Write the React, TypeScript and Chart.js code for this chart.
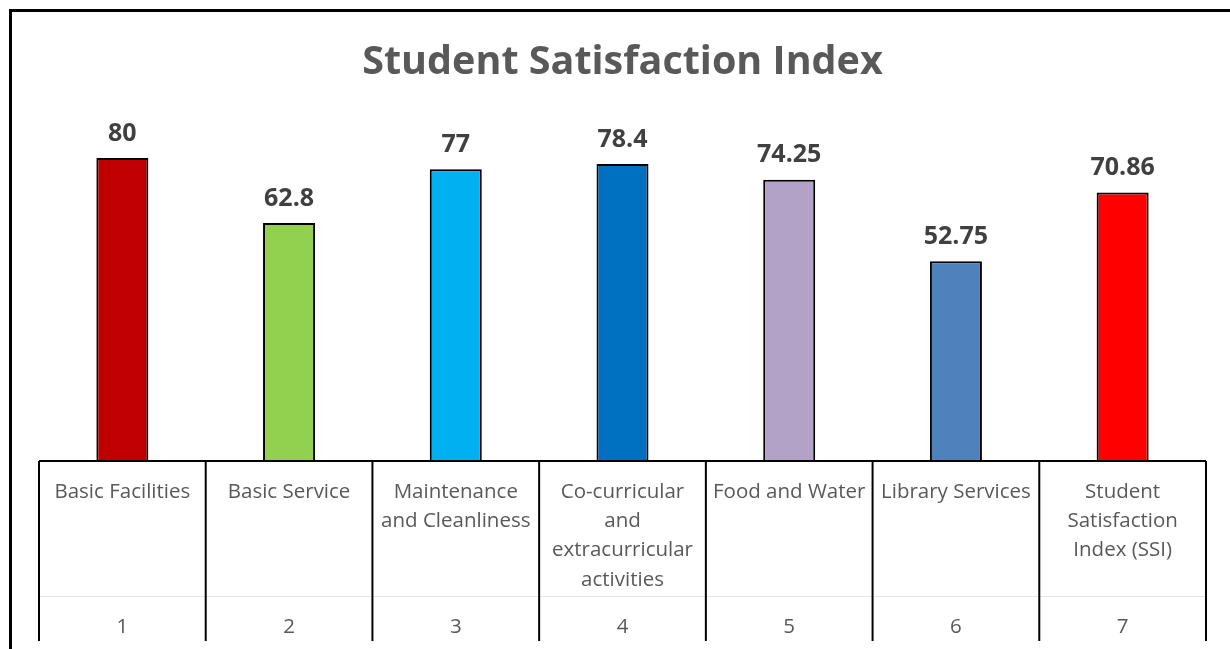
import React, { useEffect, useRef } from "react";
import { Chart, registerables } from "chart.js";

Chart.register(...registerables);

const categories: string[][] = [
  ["Basic Facilities"],
  ["Basic Service"],
  ["Maintenance", "and Cleanliness"],
  ["Co-curricular", "and", "extracurricular", "activities"],
  ["Food and Water"],
  ["Library Services"],
  ["Student", "Satisfaction", "Index (SSI)"],
];
const rowNumbers: string[] = ["1", "2", "3", "4", "5", "6", "7"];
const values: number[] = [80, 62.8, 77, 78.4, 74.25, 52.75, 70.86];
const valueLabels: string[] = ["80", "62.8", "77", "78.4", "74.25", "52.75", "70.86"];
const barColors: string[] = ["#C00000", "#92D050", "#00B0F0", "#0070C0", "#B2A2C7", "#4F81BD", "#FF0000"];

const FONT = "'Open Sans', Lato, sans-serif";

const tablePlugin = {
  id: "tablePlugin",
  afterDraw(chart: any) {
    const ctx = chart.ctx;
    const x = chart.scales.x;
    const area = chart.chartArea;
    const n = chart.data.labels.length;
    const w = (area.right - area.left) / n;
    const top = area.bottom;
    const bottom = top + 180;
    ctx.save();
    // outer frame
    ctx.strokeStyle = "#000";
    ctx.lineWidth = 3;
    ctx.strokeRect(10.5, 10.5, chart.width + 20, chart.height + 20);
    // faint row separator
    ctx.strokeStyle = "#e6e6e6";
    ctx.lineWidth = 1;
    ctx.beginPath();
    ctx.moveTo(area.left, top + 135.5);
    ctx.lineTo(area.right, top + 135.5);
    ctx.stroke();
    // top axis line
    ctx.strokeStyle = "#000";
    ctx.lineWidth = 2;
    ctx.beginPath();
    ctx.moveTo(area.left, top);
    ctx.lineTo(area.right, top);
    ctx.stroke();
    // vertical cell lines
    for (let i = 0; i <= n; i++) {
      const cx = i < n ? x.getPixelForValue(i) - w / 2 : x.getPixelForValue(n - 1) + w / 2;
      ctx.beginPath();
      ctx.moveTo(cx, top);
      ctx.lineTo(cx, bottom);
      ctx.stroke();
    }
    // labels
    ctx.fillStyle = "#595959";
    ctx.font = `20.5px ${FONT}`;
    ctx.textAlign = "center";
    ctx.textBaseline = "middle";
    for (let i = 0; i < n; i++) {
      const cx = x.getPixelForValue(i);
      const lines: string[] = chart.data.labels[i];
      lines.forEach((ln, j) => {
        ctx.fillText(ln, cx, top + 31 + j * 29.3);
      });
      ctx.fillText(rowNumbers[i], cx, top + 166.5);
    }
    // value labels
    const meta = chart.getDatasetMeta(0);
    ctx.fillStyle = "#404040";
    ctx.font = `bold 25px ${FONT}`;
    meta.data.forEach((bar: any, i: number) => {
      ctx.fillText(valueLabels[i], bar.x, bar.y - 24.5);
    });
    ctx.restore();
  },
};

export default function App() {
  const ref = useRef<HTMLCanvasElement | null>(null);
  useEffect(() => {
    if (!ref.current) return;
    const chart = new Chart(ref.current, {
      type: "bar",
      data: {
        labels: categories as any,
        datasets: [
          {
            data: values,
            backgroundColor: barColors,
            borderColor: "#000",
            borderWidth: 2,
            borderSkipped: "bottom",
            categoryPercentage: 1,
            barPercentage: 0.312,
          },
        ],
      },
      options: {
        animation: false,
        responsive: false,
        maintainAspectRatio: false,
        layout: { padding: { left: 39, right: 24, top: 14, bottom: 8 } },
        plugins: {
          legend: { display: false },
          tooltip: { enabled: false },
          title: {
            display: true,
            text: "Student Satisfaction Index",
            color: "#595959",
            font: { family: FONT, size: 39.5, weight: "bold", lineHeight: 1.2 },
            padding: { top: 25.5, bottom: 33.1 },
          },
        },
        scales: {
          x: {
            display: true,
            grid: { display: false, drawTicks: false },
            border: { display: false },
            ticks: { display: false },
            afterFit(scale: any) {
              scale.height = 180;
            },
          },
          y: {
            display: false,
            min: 0,
            max: 90,
          },
        },
      },
      plugins: [tablePlugin],
    });
    return () => chart.destroy();
  }, []);
  return (
    <div style={{ position: "absolute", left: 0, top: 0, width: 1230, height: 649, background: "#fff" }}>
      <canvas ref={ref} width={1230} height={649} />
    </div>
  );
}
